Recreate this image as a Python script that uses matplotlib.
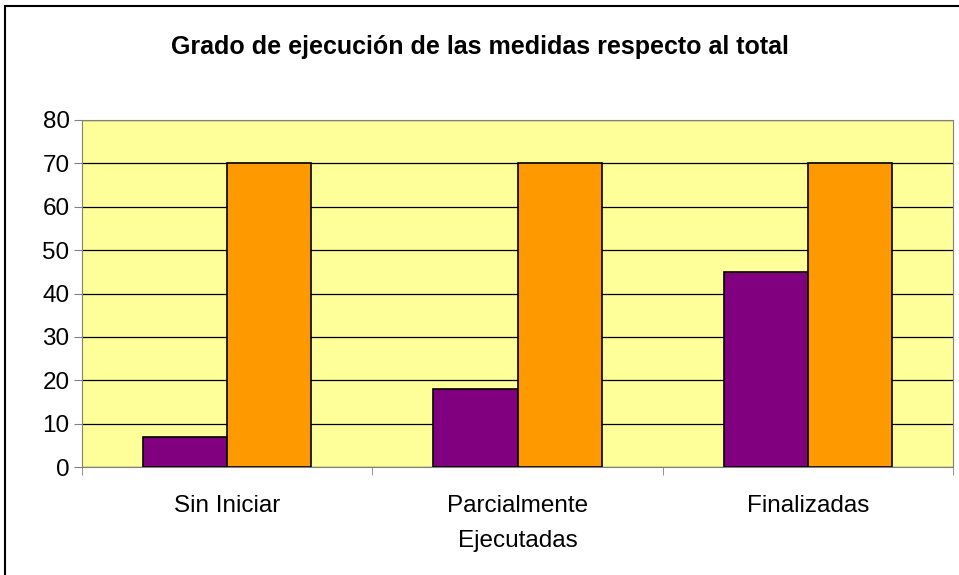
import numpy as np
import matplotlib.pyplot as plt
from matplotlib.patches import Rectangle

categories = ["Sin Iniciar", "Parcialmente\nEjecutadas", "Finalizadas"]
serie_medidas = [7, 18, 45]
serie_total = [70, 70, 70]

plt.rcParams["font.family"] = ["Liberation Sans", "DejaVu Sans"]

fig = plt.figure(figsize=(9.59, 5.75), dpi=100)
ax = fig.add_axes([82 / 959, 1 - 467 / 575, 871 / 959, 347 / 575])
ax.set_facecolor("#FFFF99")

x = np.arange(len(categories))
w = 0.29
ax.bar(x - w / 2, serie_medidas, w, color="#800080", edgecolor="black", linewidth=1.2, zorder=3)
ax.bar(x + w / 2, serie_total, w, color="#FF9900", edgecolor="black", linewidth=1.2, zorder=3)

ax.set_xlim(-0.5, len(categories) - 0.5)
ax.set_ylim(0, 80)
ax.set_yticks(np.arange(0, 81, 10))
ax.yaxis.grid(True, color="black", linewidth=0.9, zorder=1)
ax.set_axisbelow(True)

# category labels centred, ticks on the boundaries
ax.set_xticks(x)
ax.set_xticklabels(categories, fontsize=17.5, linespacing=1.8)
ax.tick_params(axis="x", length=0, pad=20)
ax.set_xticks(np.arange(-0.5, len(categories), 1), minor=True)
ax.tick_params(axis="x", which="minor", length=6, color="gray", direction="out")
ax.tick_params(axis="y", labelsize=17.5, length=6, color="gray", pad=3)

for s in ["top", "right", "left", "bottom"]:
    ax.spines[s].set_color("gray")

fig.text(0.5, 1 - 47 / 575, "Grado de ejecución de las medidas respecto al total",
         ha="center", va="center", fontsize=18, fontweight="bold")

fig.patches.append(Rectangle((5 / 959, -0.05), 1.1, 1 - 6 / 575 + 0.05,
                             transform=fig.transFigure, fill=False,
                             edgecolor="black", linewidth=1.5))

fig.savefig("out.png", dpi=100)
